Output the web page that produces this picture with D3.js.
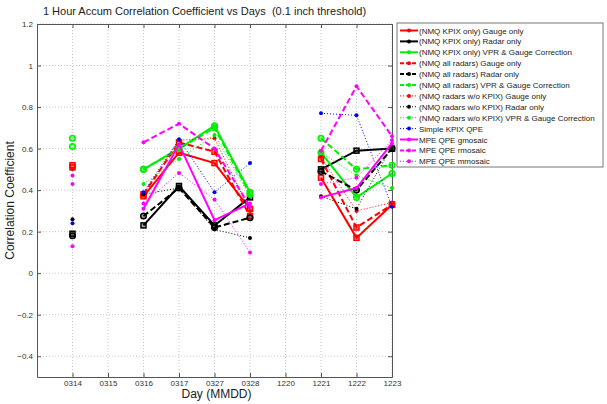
<!DOCTYPE html>
<html>
<head>
<meta charset="utf-8">
<script src="https://cdn.jsdelivr.net/npm/d3@7"></script>
<style>
body { margin: 0; background: #fff; font-family: "Liberation Sans", Arial, sans-serif; }
.grid line { stroke: #c8c8c8; stroke-dasharray: 1,2; }
</style>
</head>
<body>
<div id="chart"></div>
<script>
var days = ["0314", "0315", "0316", "0317", "0327", "0328", "1220", "1221", "1222", "1223"];
var yTicks = [-0.4, -0.2, 0, 0.2, 0.4, 0.6, 0.8, 1, 1.2];

// one value per day, null where there is no data
var kpixGauge   = [0.51, null, 0.37, 0.58, 0.53, 0.31, null, 0.46, 0.17, 0.33];
var kpixRadar   = [0.19, null, 0.23, 0.42, 0.23, 0.365, null, 0.50, 0.59, 0.60];
var kpixVpr     = [0.65, null, 0.50, 0.60, 0.71, 0.39, null, 0.58, 0.365, 0.48];
var allGauge    = [0.52, null, 0.38, 0.63, 0.585, 0.275, null, 0.55, 0.22, 0.33];
var allRadar    = [0.18, null, 0.275, 0.41, 0.22, 0.267, null, 0.49, 0.40, 0.60];
var allVpr      = [0.61, null, 0.50, 0.60, 0.70, 0.38, null, 0.65, 0.50, 0.52];
var woGauge     = [0.50, null, 0.38, 0.64, 0.65, 0.30, null, 0.56, 0.30, 0.34];
var woRadar     = [0.26, null, 0.38, 0.41, 0.21, 0.17, null, 0.37, 0.31, 0.61];
var woVpr       = [null, null, 0.43, 0.55, 0.665, 0.37, null, 0.58, 0.47, 0.41];
var simpleKpix  = [0.24, null, 0.39, 0.645, 0.39, 0.53, null, 0.77, 0.76, 0.32];
var mpeG        = [0.47, null, 0.31, 0.62, 0.255, 0.336, null, 0.365, 0.41, 0.625];
var mpeR        = [0.43, null, 0.63, 0.72, 0.60, 0.32, null, 0.59, 0.90, 0.66];
var mpeM        = [0.13, null, 0.336, 0.483, 0.355, 0.10, null, 0.43, 0.46, 0.64];

var seriesNames = [
  "(NMQ KPIX only) Gauge only", "(NMQ KPIX only) Radar only", "(NMQ KPIX only) VPR & Gauge Correction",
  "(NMQ all radars) Gauge only", "(NMQ all radars) Radar only", "(NMQ all radars) VPR & Gauge Correction",
  "(NMQ radars w/o KPIX) Gauge only", "(NMQ radars w/o KPIX) Radar only", "(NMQ radars w/o KPIX) VPR & Gauge Correction",
  "Simple KPIX QPE", "MPE QPE gmosaic", "MPE QPE rmosaic", "MPE QPE mmosaic"
];
var seriesValues = [kpixGauge, kpixRadar, kpixVpr, allGauge, allRadar, allVpr,
                    woGauge, woRadar, woVpr, simpleKpix, mpeG, mpeR, mpeM];
var seriesColors = ["#ff0000", "#000000", "#00ee00", "#ff0000", "#000000", "#00ee00",
                    "#ff0000", "#000000", "#00ee00", "#0000ff", "#ff00ff", "#ff00ff", "#ff00ff"];
var seriesDash = ["solid", "solid", "solid", "dash", "dash", "dash",
                  "dot", "dot", "dot", "dot", "solid", "dash", "dot"];
var seriesMarker = ["square", "square", "circle", "square", "circle", "circle",
                    "dot", "dot", "dot", "dot", "dot", "dot", "dot"];

var margin = {top: 24, right: 215, bottom: 27, left: 37};
var W = 607, H = 404;
var width = W - margin.left - margin.right;
var height = H - margin.top - margin.bottom;

var svg = d3.select("#chart").append("svg")
  .attr("width", W).attr("height", H);
var g = svg.append("g")
  .attr("transform", "translate(" + margin.left + "," + margin.top + ")");

var x = d3.scaleLinear().domain([0, days.length]).range([0, width]);
var y = d3.scaleLinear().domain([-0.5, 1.2]).range([height, 0]);

// grid
var grid = g.append("g").attr("class", "grid");
grid.selectAll(".gx").data(days).enter().append("line")
  .attr("x1", function(d, i) { return x(i + 1); })
  .attr("x2", function(d, i) { return x(i + 1); })
  .attr("y1", 0).attr("y2", height);
grid.selectAll(".gy").data(yTicks).enter().append("line")
  .attr("x1", 0).attr("x2", width)
  .attr("y1", function(d) { return y(d); })
  .attr("y2", function(d) { return y(d); });

// axes, matlab style: ticks inward, box around
var tickIdx = days.map(function(d, i) { return i + 1; });
var axisX = d3.axisBottom(x).tickValues(tickIdx)
  .tickFormat(function(d) { return days[d - 1]; })
  .tickSizeInner(-4).tickSizeOuter(0).tickPadding(3);
var axisY = d3.axisLeft(y).tickValues(yTicks)
  .tickFormat(function(d) { return d3.format("")(+d.toFixed(1)); })
  .tickSizeInner(-4).tickSizeOuter(0).tickPadding(4);

g.append("g").attr("transform", "translate(0," + height + ")").call(axisX);
g.append("g").call(axisY);
g.append("g").call(d3.axisTop(x).tickValues(tickIdx).tickFormat("").tickSizeInner(-4).tickSizeOuter(0));
g.append("g").attr("transform", "translate(" + width + ",0)")
  .call(d3.axisRight(y).tickValues(yTicks).tickFormat("").tickSizeInner(-4).tickSizeOuter(0));

g.selectAll(".domain").attr("stroke", "#555");
g.selectAll(".tick line").attr("stroke", "#555");
g.selectAll(".tick text").attr("fill", "#333").style("font-size", "8px")
  .style("font-family", "'Liberation Sans', Arial, sans-serif");

function dashArray(s) {
  if (s === "dash") return "6,3";
  if (s === "dot") return "1,2";
  return null;
}
function strokeW(s) {
  return s === "dot" ? 1 : 2;
}

function drawMarker(sel, kind, color, cx, cy) {
  if (kind === "square") {
    sel.append("rect").attr("x", cx - 2.5).attr("y", cy - 2.5).attr("width", 5).attr("height", 5)
      .attr("fill", color).attr("fill-opacity", 0.35).attr("stroke", color).attr("stroke-width", 1.5);
  } else if (kind === "circle") {
    sel.append("circle").attr("cx", cx).attr("cy", cy).attr("r", 2.8)
      .attr("fill", color).attr("fill-opacity", 0.35).attr("stroke", color).attr("stroke-width", 1.5);
  } else {
    sel.append("circle").attr("cx", cx).attr("cy", cy).attr("r", 2).attr("fill", color);
  }
}

var line = d3.line()
  .defined(function(d) { return d != null; })
  .x(function(d, i) { return x(i + 1); })
  .y(function(d) { return y(d); });

var plot = g.append("g");
seriesValues.forEach(function(vals, k) {
  var s = plot.append("g");
  s.append("path")
    .attr("d", line(vals))
    .attr("fill", "none")
    .attr("stroke", seriesColors[k])
    .attr("stroke-width", strokeW(seriesDash[k]))
    .attr("stroke-dasharray", dashArray(seriesDash[k]));
  vals.forEach(function(v, i) {
    if (v == null) return;
    drawMarker(s, seriesMarker[k], seriesColors[k], x(i + 1), y(v));
  });
});

// title and labels
svg.append("text").attr("x", 37 + width / 2 - 10).attr("y", 15)
  .attr("text-anchor", "middle").style("font-size", "11px").attr("fill", "#222")
  .style("white-space", "pre")
  .text("1 Hour Accum Correlation Coefficient vs Days  (0.1 inch threshold)");
svg.append("text").attr("x", 37 + width / 2 + 2).attr("y", 398)
  .attr("text-anchor", "middle").style("font-size", "12px").attr("fill", "#222")
  .text("Day (MMDD)");
svg.append("text")
  .attr("transform", "translate(14," + (margin.top + height / 2) + ") rotate(-90)")
  .attr("text-anchor", "middle").style("font-size", "12px").attr("fill", "#222")
  .text("Correlation Coefficient");

// legend
var lg = svg.append("g").attr("transform", "translate(397,23)");
lg.append("rect").attr("width", 206).attr("height", 144)
  .attr("fill", "#fff").attr("stroke", "#777").attr("stroke-width", 1);
seriesNames.forEach(function(name, k) {
  var ry = 7.5 + k * 10.9;
  var e = lg.append("g");
  e.append("line").attr("x1", 3).attr("x2", 21).attr("y1", ry).attr("y2", ry)
    .attr("stroke", seriesColors[k])
    .attr("stroke-width", strokeW(seriesDash[k]))
    .attr("stroke-dasharray", seriesDash[k] === "dash" ? "4,2" : dashArray(seriesDash[k]));
  e.append("circle").attr("cx", 12).attr("cy", ry).attr("r", 2).attr("fill", seriesColors[k]);
  e.append("text").attr("x", 22).attr("y", ry + 3)
    .style("font-size", "8px").attr("fill", "#222").text(name);
});
</script>
</body>
</html>
